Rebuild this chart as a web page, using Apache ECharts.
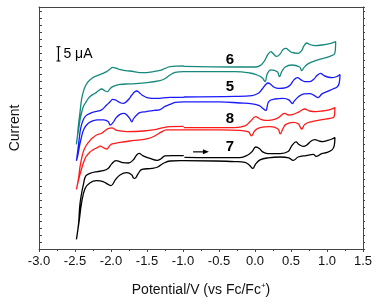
<!DOCTYPE html>
<html>
<head>
<meta charset="utf-8">
<script src="https://cdn.jsdelivr.net/npm/echarts@6/dist/echarts.min.js"></script>
<style>
  html, body { margin: 0; padding: 0; background: #fff; }
  #cv-chart { width: 381px; height: 304px; }
</style>
</head>
<body>
<div id="cv-chart"></div>
<script>
// potential (V vs Fc/Fc+), current (uA, offset per trace)
var cv7 = [
  [-0.98,32.1],[-0.63,32.0],[-0.21,32.0],[-0.10,32.9],[-0.04,34.1],[0.01,35.7],[0.06,35.2],[0.10,34.1],
  [0.18,33.4],[0.35,33.4],[0.46,34.1],[0.51,36.1],[0.57,37.5],[0.61,36.6],[0.67,35.9],[0.72,36.4],
  [0.78,37.8],[0.83,38.3],[0.89,37.8],[0.94,37.6],[1.01,38.0],[1.07,38.5],[1.11,39.0],
  [1.10,36.1],[1.07,34.7],[1.00,33.8],[0.92,33.3],[0.85,32.4],[0.81,33.1],[0.71,32.7],[0.60,32.2],
  [0.53,31.0],[0.47,31.9],[0.35,32.2],[0.18,31.9],[0.07,31.2],[0.01,29.8],[-0.03,28.2],[-0.08,29.4],
  [-0.14,30.3],[-0.28,30.6],[-0.56,30.8],[-0.99,30.9],[-1.04,30.9],[-1.18,30.8],[-1.27,30.0],
  [-1.35,28.7],[-1.43,28.2],[-1.57,27.9],[-1.62,26.5],[-1.67,24.7],[-1.69,24.9],[-1.71,25.9],
  [-1.78,26.7],[-1.875,25.9],[-1.94,24.2],[-2.00,22.2],[-2.04,22.6],[-2.11,23.6],[-2.20,23.9],
  [-2.29,23.2],[-2.36,21.2],[-2.41,16.0],[-2.44,10.2],[-2.48,3.4],
  [-2.45,9.0],[-2.43,16.0],[-2.38,23.0],[-2.35,25.6],[-2.29,26.5],[-2.19,27.1],[-2.11,27.4],
  [-2.04,28.2],[-1.99,29.8],[-1.93,30.9],[-1.88,30.6],[-1.83,30.2],[-1.76,30.1],[-1.69,31.2],
  [-1.65,32.7],[-1.61,33.5],[-1.56,32.7],[-1.46,31.7],[-1.36,31.0],[-1.31,31.5],[-1.25,32.6],
  [-1.15,32.7],[-0.99,32.7]
];
var cv8 = [
  [-0.99,42.5],[-0.63,42.5],[-0.28,42.5],[-0.14,43.1],[-0.07,44.5],[0.01,46.3],[0.07,45.5],[0.14,45.0],
  [0.24,45.2],[0.32,45.9],[0.37,46.9],[0.41,47.5],[0.46,46.9],[0.53,47.1],[0.61,48.0],[0.69,49.0],
  [0.76,48.3],[0.85,48.1],[0.93,48.3],[1.04,48.8],[1.11,49.5],
  [1.10,46.3],[1.04,45.7],[0.93,45.3],[0.79,44.6],[0.69,43.6],[0.65,42.0],[0.60,43.8],[0.53,44.3],
  [0.43,43.6],[0.39,42.2],[0.35,40.3],[0.32,42.0],[0.21,42.8],[0.07,42.5],[0.00,41.5],[-0.05,39.6],
  [-0.09,41.0],[-0.21,41.5],[-0.49,41.7],[-0.99,41.7],[-1.11,41.7],[-1.23,41.7],[-1.31,40.8],
  [-1.39,39.6],[-1.49,38.6],[-1.60,38.2],[-1.74,37.8],[-1.875,37.3],[-1.96,36.9],[-2.01,36.4],
  [-2.06,35.0],[-2.10,35.4],[-2.15,36.0],[-2.19,35.5],[-2.25,34.7],[-2.29,34.0],[-2.35,32.2],
  [-2.385,30.0],[-2.42,27.0],[-2.45,24.2],[-2.48,20.9],
  [-2.45,24.9],[-2.43,28.8],[-2.40,32.6],[-2.375,34.7],[-2.34,36.4],[-2.29,38.0],[-2.25,39.0],
  [-2.20,39.9],[-2.13,40.5],[-2.08,41.5],[-2.03,42.2],[-1.99,42.4],[-1.92,41.5],[-1.78,41.1],
  [-1.55,41.3],[-1.37,41.9],[-1.27,42.5],[-1.18,42.8],[-0.99,42.9]
];
var cv5 = [
  [-0.99,53.2],[-0.28,53.4],[-0.04,53.7],[0.04,54.4],[0.10,56.0],[0.15,57.6],[0.18,58.1],[0.22,57.6],
  [0.26,56.7],[0.33,56.2],[0.43,56.5],[0.49,57.4],[0.54,59.2],[0.59,60.0],[0.64,59.2],[0.69,58.6],
  [0.76,58.6],[0.82,59.5],[0.86,60.7],[0.91,61.5],[0.96,60.7],[1.01,60.2],[1.08,60.0],[1.14,60.4],
  [1.18,61.1],
  [1.17,58.1],[1.14,56.7],[1.08,56.0],[1.00,55.1],[0.93,54.3],[0.875,53.0],[0.83,53.6],[0.76,54.4],
  [0.68,54.3],[0.60,53.2],[0.54,51.6],[0.52,50.9],[0.47,52.2],[0.39,52.7],[0.28,52.5],[0.19,51.6],
  [0.15,48.5],[0.11,49.2],[0.06,50.2],[-0.04,50.8],[-0.21,51.1],[-0.49,51.5],[-0.99,51.5],
  [-1.11,51.3],[-1.18,50.6],[-1.25,49.9],[-1.32,48.8],[-1.40,48.5],[-1.51,48.1],[-1.60,47.7],
  [-1.65,46.7],[-1.69,45.5],[-1.71,44.5],[-1.74,45.7],[-1.78,46.9],[-1.82,47.5],[-1.875,47.1],
  [-1.93,45.9],[-1.97,44.3],[-2.01,43.4],[-2.04,44.6],[-2.10,45.2],[-2.19,45.2],[-2.28,44.6],
  [-2.34,43.4],[-2.38,41.7],[-2.41,39.2],[-2.44,35.7],[-2.46,32.9],[-2.48,30.9],
  [-2.46,34.7],[-2.44,38.9],[-2.42,42.4],[-2.385,45.2],[-2.35,46.6],[-2.29,47.5],[-2.22,48.1],
  [-2.13,48.7],[-2.06,50.4],[-2.01,51.6],[-1.98,52.4],[-1.94,52.2],[-1.90,51.6],[-1.86,51.1],
  [-1.83,51.0],[-1.79,51.5],[-1.75,52.5],[-1.71,53.9],[-1.67,55.0],[-1.64,55.3],[-1.61,54.8],
  [-1.57,53.9],[-1.50,53.0],[-1.37,52.7],[-1.18,53.1],[-0.99,53.1]
];
var cv6 = [
  [-0.99,63.9],[-0.28,63.7],[0.00,63.7],[0.07,64.2],[0.125,65.6],[0.18,68.1],[0.22,69.1],[0.255,68.3],
  [0.30,67.4],[0.35,68.3],[0.39,69.8],[0.43,70.2],[0.47,69.5],[0.51,68.8],[0.60,68.5],[0.65,69.5],
  [0.68,71.1],[0.72,72.1],[0.76,71.6],[0.83,71.2],[0.93,71.4],[1.04,71.9],[1.12,72.6],
  [1.11,68.6],[1.04,67.4],[0.875,66.2],[0.74,64.9],[0.68,63.5],[0.65,62.4],[0.62,63.7],[0.51,64.4],
  [0.42,63.7],[0.37,62.0],[0.34,60.3],[0.31,62.0],[0.22,62.7],[0.17,61.3],[0.14,58.6],[0.10,59.9],
  [0.03,60.9],[-0.07,61.6],[-0.28,62.1],[-0.63,62.1],[-0.99,62.1],[-1.11,61.8],[-1.18,60.9],
  [-1.26,59.5],[-1.32,58.9],[-1.50,58.2],[-1.74,57.8],[-1.875,57.6],[-1.97,56.9],[-2.01,56.2],
  [-2.05,55.1],[-2.08,55.3],[-2.13,56.0],[-2.18,55.3],[-2.22,54.5],[-2.28,53.6],[-2.315,52.7],
  [-2.355,51.1],[-2.385,49.8],[-2.41,47.6],[-2.43,45.2],[-2.45,41.7],[-2.47,38.9],[-2.48,36.6],
  [-2.465,39.9],[-2.455,42.8],[-2.43,48.0],[-2.41,52.2],[-2.385,55.0],[-2.36,56.8],[-2.32,58.5],
  [-2.29,59.2],[-2.25,60.0],[-2.20,60.6],[-2.13,61.3],[-2.06,62.1],[-2.01,63.0],[-1.98,63.6],
  [-1.94,63.4],[-1.90,63.0],[-1.82,62.5],[-1.74,62.3],[-1.55,61.7],[-1.41,62.1],[-1.32,62.5],
  [-1.25,63.2],[-1.18,63.8],[-0.99,64.1]
];

var traceNames = ['7', '8', '5', '6'];
var traceColors = ['#000000', '#ff1a1a', '#1a1aff', '#17897c'];
var traceData = [cv7, cv8, cv5, cv6];
// label anchor for each trace number (potential, current)
var labelPos = [[-0.35, 35.8], [-0.35, 45.7], [-0.35, 56.6], [-0.35, 66.2]];
var scaleBar = [-2.73, 65.8, 70.8]; // 5 uA
var scanArrow = [-0.86, -0.64, 34.0];

var myChart = echarts.init(document.getElementById('cv-chart'));

var series = [];
for (var i = 0; i < traceData.length; i++) {
  series.push({
    name: traceNames[i],
    type: 'line',
    data: traceData[i],
    showSymbol: false,
    smooth: 0.4,
    lineStyle: { color: traceColors[i], width: 1.3 },
    silent: true,
    animation: false
  });
}

var option = {
  animation: false,
  grid: { left: 39, right: 18, top: 7, bottom: 55 },
  xAxis: [
    {
      type: 'value', min: -3, max: 1.5, interval: 0.5,
      name: '{n|Potential/V (vs Fc/Fc}{s|+}{n|)}',
      nameLocation: 'middle', nameGap: 33,
      nameTextStyle: {
        rich: {
          n: { fontFamily: 'Liberation Sans', fontSize: 14, color: '#111' },
          s: { fontFamily: 'Liberation Sans', fontSize: 8, color: '#111', verticalAlign: 'top', padding: [0, 0, 8, 0] }
        }
      },
      axisLine: { show: true, onZero: false, lineStyle: { color: '#444', width: 1 } },
      axisTick: { show: true, inside: false, length: 3, lineStyle: { color: '#444' } },
      minorTick: { show: true, splitNumber: 2, length: 2, lineStyle: { color: '#444' } },
      axisLabel: {
        fontFamily: 'Liberation Sans', fontSize: 13, color: '#111', margin: 6,
        formatter: function (v) { return v.toFixed(1); }
      },
      splitLine: { show: false }
    },
    {
      type: 'value', min: -3, max: 1.5, position: 'top',
      axisLine: { show: true, onZero: false, lineStyle: { color: '#444', width: 1 } },
      axisTick: { show: false }, axisLabel: { show: false }, splitLine: { show: false }
    }
  ],
  yAxis: [
    {
      type: 'value', min: 0, max: 84.7, interval: 2.45,
      name: 'Current', nameLocation: 'middle', nameGap: 17,
      nameTextStyle: { fontFamily: 'Liberation Sans', fontSize: 14, color: '#111' },
      axisLine: { show: true, onZero: false, lineStyle: { color: '#444', width: 1 } },
      axisTick: { show: true, inside: true, length: 3, lineStyle: { color: '#444' } },
      axisLabel: { show: false },
      splitLine: { show: false }
    },
    {
      type: 'value', min: 0, max: 84.7, interval: 2.45, position: 'right',
      axisLine: { show: true, onZero: false, lineStyle: { color: '#444', width: 1 } },
      axisTick: { show: true, inside: false, length: 2, lineStyle: { color: '#444' } },
      axisLabel: { show: false },
      splitLine: { show: false }
    }
  ],
  series: series
};

myChart.setOption(option);

// annotations placed from data coordinates
function px(p) { return myChart.convertToPixel({ gridIndex: 0 }, p); }
var graphic = [];
for (var j = 0; j < traceNames.length; j++) {
  var c = px(labelPos[j]);
  graphic.push({
    type: 'text', x: c[0], y: c[1],
    style: { text: traceNames[j], fontFamily: 'Liberation Sans', fontSize: 15, fontWeight: 'bold',
      fill: '#000', align: 'center', verticalAlign: 'middle' }
  });
}
var b0 = px([scaleBar[0], scaleBar[1]]), b1 = px([scaleBar[0], scaleBar[2]]);
graphic.push({ type: 'line', shape: { x1: b0[0], y1: b0[1], x2: b1[0], y2: b1[1] }, style: { stroke: '#000', lineWidth: 1.2 } });
graphic.push({ type: 'line', shape: { x1: b0[0] - 2, y1: b0[1], x2: b0[0] + 2, y2: b0[1] }, style: { stroke: '#000', lineWidth: 1 } });
graphic.push({ type: 'line', shape: { x1: b1[0] - 2, y1: b1[1], x2: b1[0] + 2, y2: b1[1] }, style: { stroke: '#000', lineWidth: 1 } });
graphic.push({
  type: 'text', x: b0[0] + 5, y: (b0[1] + b1[1]) / 2,
  style: { text: '5 μA', fontFamily: 'Liberation Sans', fontSize: 14, fill: '#000', verticalAlign: 'middle' }
});
var a0 = px([scanArrow[0], scanArrow[2]]), a1 = px([scanArrow[1], scanArrow[2]]);
graphic.push({ type: 'line', shape: { x1: a0[0], y1: a0[1], x2: a1[0] - 4, y2: a1[1] }, style: { stroke: '#000', lineWidth: 1.2 } });
graphic.push({ type: 'polygon', shape: { points: [[a1[0], a1[1]], [a1[0] - 6, a1[1] - 2.5], [a1[0] - 6, a1[1] + 2.5]] }, style: { fill: '#000' } });

myChart.setOption({ graphic: graphic });
</script>
</body>
</html>
